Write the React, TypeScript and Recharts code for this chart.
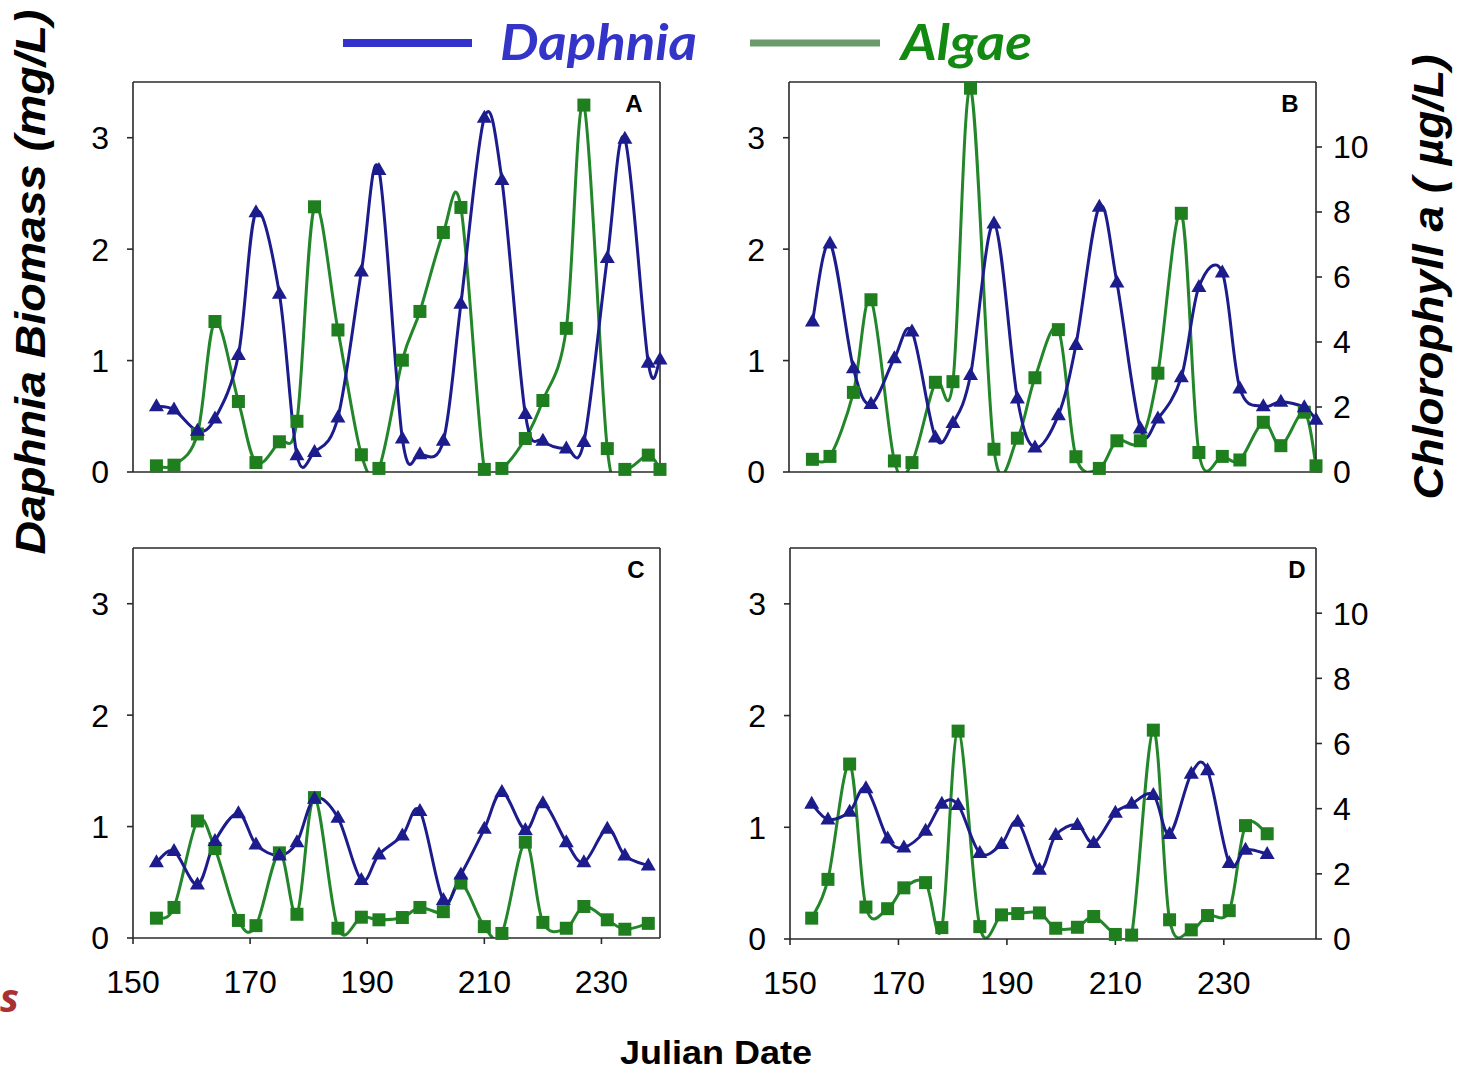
import React from "react";
import { LineChart, Line, XAxis, YAxis } from "recharts";

// sampling days (twice weekly)
const daysAB = [154, 157, 161, 164, 168, 171, 175, 178, 181, 185, 189, 192, 196, 199, 203, 206, 210, 213, 217, 220, 224, 227, 231, 234, 238, 240];
const daysCD = [154, 157, 161, 164, 168, 171, 175, 178, 181, 185, 189, 192, 196, 199, 203, 206, 210, 213, 217, 220, 224, 227, 231, 234, 238];

// Daphnia biomass (mg/L)
const daphniaA = [0.59, 0.56, 0.37, 0.48, 1.05, 2.33, 1.6, 0.15, 0.18, 0.49, 1.8, 2.71, 0.3, 0.16, 0.28, 1.51, 3.18, 2.62, 0.52, 0.28, 0.21, 0.27, 1.92, 2.99, 0.98, 1.01];
const daphniaB = [1.35, 2.05, 0.93, 0.61, 1.02, 1.26, 0.31, 0.44, 0.87, 2.23, 0.66, 0.22, 0.51, 1.14, 2.38, 1.7, 0.39, 0.48, 0.85, 1.66, 1.79, 0.75, 0.59, 0.63, 0.58, 0.47];
const daphniaC = [0.68, 0.78, 0.48, 0.87, 1.12, 0.84, 0.74, 0.86, 1.25, 1.08, 0.52, 0.75, 0.92, 1.14, 0.34, 0.57, 0.98, 1.31, 0.97, 1.21, 0.86, 0.68, 0.98, 0.74, 0.65];
const daphniaD = [1.21, 1.07, 1.14, 1.35, 0.9, 0.82, 0.97, 1.21, 1.2, 0.77, 0.85, 1.05, 0.62, 0.93, 1.02, 0.86, 1.13, 1.21, 1.29, 0.94, 1.48, 1.51, 0.68, 0.8, 0.76];

// Chlorophyll a (ug/L)
const algaeA = [0.19, 0.21, 1.17, 4.63, 2.17, 0.29, 0.93, 1.56, 8.16, 4.37, 0.53, 0.11, 3.44, 4.94, 7.37, 8.14, 0.08, 0.11, 1.03, 2.2, 4.42, 11.29, 0.72, 0.08, 0.52, 0.08];
const algaeB = [0.39, 0.48, 2.45, 5.3, 0.34, 0.29, 2.76, 2.78, 11.81, 0.7, 1.04, 2.9, 4.38, 0.47, 0.11, 0.96, 0.96, 3.04, 7.96, 0.6, 0.48, 0.37, 1.53, 0.81, 1.84, 0.19];
const algaeC = [0.61, 0.94, 3.6, 2.75, 0.54, 0.38, 2.62, 0.73, 4.32, 0.3, 0.64, 0.56, 0.63, 0.94, 0.81, 1.69, 0.35, 0.14, 2.95, 0.48, 0.3, 0.97, 0.56, 0.27, 0.45];
const algaeD = [0.64, 1.83, 5.37, 0.98, 0.93, 1.57, 1.73, 0.35, 6.38, 0.38, 0.74, 0.78, 0.8, 0.33, 0.36, 0.69, 0.14, 0.12, 6.41, 0.59, 0.28, 0.72, 0.87, 3.48, 3.23];

const xTicks = [150, 170, 190, 210, 230];
const daphniaTicks = [0, 1, 2, 3];
const chlTicks = [0, 2, 4, 6, 8, 10];

const NAVY = "#1c1c8c";
const GREEN = "#23862a";
const SQUARE = "#1f7f1f";
const AXIS = "#2a2a2a";
const FONT = "'Liberation Sans', Arial, sans-serif";

const rows = (days: number[], daphnia: number[], algae: number[]) =>
  days.map((day, i) => ({ day, daphnia: daphnia[i], algae: algae[i] }));

// uniform catmull-rom through the points, softer than "natural"
function smooth(context: any) {
  let pts: number[][] = [];
  return {
    areaStart() {},
    areaEnd() {},
    lineStart() {
      pts = [];
    },
    point(x: number, y: number) {
      pts.push([x, y]);
    },
    lineEnd() {
      const n = pts.length;
      if (!n) return;
      context.moveTo(pts[0][0], pts[0][1]);
      for (let i = 0; i < n - 1; i++) {
        const p0 = pts[Math.max(i - 1, 0)];
        const p1 = pts[i];
        const p2 = pts[i + 1];
        const p3 = pts[Math.min(i + 2, n - 1)];
        context.bezierCurveTo(
          p1[0] + (p2[0] - p0[0]) / 6,
          p1[1] + (p2[1] - p0[1]) / 6,
          p2[0] - (p3[0] - p1[0]) / 6,
          p2[1] - (p3[1] - p1[1]) / 6,
          p2[0],
          p2[1]
        );
      }
    },
  };
}

const Tri = (p: any) => {
  if (p.cx == null || p.cy == null) return <g key={`t-${p.index}`} />;
  const { cx, cy } = p;
  return (
    <path
      key={`t-${p.index}`}
      d={`M${cx},${cy - 8} L${cx + 7.5},${cy + 5} L${cx - 7.5},${cy + 5} Z`}
      fill={NAVY}
    />
  );
};

const Sq = (p: any) => {
  if (p.cx == null || p.cy == null) return <g key={`s-${p.index}`} />;
  return <rect key={`s-${p.index}`} x={p.cx - 6.5} y={p.cy - 6.5} width={13} height={13} fill={SQUARE} />;
};

type PanelProps = {
  data: { day: number; daphnia: number; algae: number }[];
  left: number;
  top: number;
  w: number;
  h: number;
  xMax: number;
  xLabels?: boolean;
  rightLabels?: boolean;
};

function Panel({ data, left, top, w, h, xMax, xLabels, rightLabels }: PanelProps) {
  const tickStyle = { fill: "#000", fontSize: 32, fontFamily: FONT };
  const axisProps = { stroke: AXIS, strokeWidth: 1.6 };
  return (
    <div style={{ position: "absolute", left: left - 80, top: top - 20 }}>
      <LineChart width={w + 160} height={h + 90} data={data} margin={{ top: 10, right: 10, bottom: 10, left: 10 }}>
        <XAxis
          xAxisId="b"
          dataKey="day"
          type="number"
          domain={[150, xMax]}
          ticks={xTicks}
          height={60}
          tickSize={6}
          tickMargin={26}
          axisLine={axisProps}
          tickLine={axisProps}
          tick={xLabels ? tickStyle : false}
          interval={0}
        />
        <XAxis
          xAxisId="t"
          orientation="top"
          dataKey="day"
          type="number"
          domain={[150, xMax]}
          allowDataOverflow
          ticks={[170, 190, 210, 230]}
          height={10}
          tickSize={6}
          axisLine={axisProps}
          tickLine={axisProps}
          tick={false}
        />
        <YAxis
          yAxisId="d"
          domain={[0, 3.5]}
          allowDataOverflow
          ticks={daphniaTicks}
          width={70}
          tickSize={6}
          tickMargin={18}
          axisLine={axisProps}
          tickLine={axisProps}
          tick={tickStyle}
          interval={0}
        />
        <YAxis
          yAxisId="c"
          orientation="right"
          domain={[0, 12]}
          allowDataOverflow
          ticks={chlTicks}
          width={70}
          tickSize={6}
          tickMargin={11}
          axisLine={axisProps}
          tickLine={axisProps}
          tick={rightLabels ? { ...tickStyle, textAnchor: "start" } : false}
          interval={0}
        />
        <YAxis yAxisId="dm" hide width={0} domain={[0, 3.5]} />
        <YAxis yAxisId="cm" hide width={0} orientation="right" domain={[0, 12]} />
        <Line xAxisId="b" yAxisId="c" dataKey="algae" type={smooth as any} stroke={GREEN} strokeWidth={3} dot={false} isAnimationActive={false} />
        <Line xAxisId="b" yAxisId="d" dataKey="daphnia" type={smooth as any} stroke={NAVY} strokeWidth={3} dot={false} isAnimationActive={false} />
        <Line xAxisId="b" yAxisId="cm" dataKey="algae" stroke="none" dot={Sq} activeDot={false} isAnimationActive={false} />
        <Line xAxisId="b" yAxisId="dm" dataKey="daphnia" stroke="none" dot={Tri} activeDot={false} isAnimationActive={false} />
      </LineChart>
    </div>
  );
}

export default function App() {
  return (
    <div style={{ position: "absolute", left: 0, top: 0, width: 1470, height: 1070, background: "#fff", overflow: "hidden" }}>
      <Panel data={rows(daysAB, daphniaA, algaeA)} left={133} top={82} w={527} h={390} xMax={240} />
      <Panel data={rows(daysAB, daphniaB, algaeB)} left={789} top={82} w={527} h={390} xMax={240} rightLabels />
      <Panel data={rows(daysCD, daphniaC, algaeC)} left={133} top={548} w={527} h={390} xMax={240} xLabels />
      <Panel data={rows(daysCD, daphniaD, algaeD)} left={790} top={548} w={526} h={391} xMax={247} xLabels rightLabels />
      <svg width={1470} height={1070} style={{ position: "absolute", left: 0, top: 0, pointerEvents: "none" }}>
        {/* legend */}
        <line x1={343} x2={472} y1={43} y2={43} stroke="#3333cc" strokeWidth={8} />
        <text x={500} y={60} fontFamily="Lato, 'Open Sans', sans-serif" fontWeight={700} fontStyle="italic" fontSize={50} fill="#3434c8" textLength={197} lengthAdjust="spacingAndGlyphs">
          Daphnia
        </text>
        <line x1={750} x2={880} y1={43} y2={43} stroke="#6b9a6b" strokeWidth={7} />
        <text x={901} y={60} fontFamily="Lato, 'Open Sans', sans-serif" fontWeight={700} fontStyle="italic" fontSize={50} fill="#128a12" textLength={131} lengthAdjust="spacingAndGlyphs">
          Algae
        </text>
        {/* panel letters */}
        <g fontFamily={FONT} fontWeight={900} fontSize={24} fill="#000" textAnchor="middle">
          <text x={634} y={112}>A</text>
          <text x={1290} y={112}>B</text>
          <text x={636} y={578}>C</text>
          <text x={1297} y={578}>D</text>
        </g>
        {/* axis titles */}
        <text
          transform="translate(45,282) rotate(-90)"
          textAnchor="middle"
          fontFamily={FONT}
          fontWeight={700}
          fontStyle="italic"
          fontSize={43}
          fill="#000"
          textLength={545}
          lengthAdjust="spacingAndGlyphs"
        >
          Daphnia  Biomass (mg/L)
        </text>
        <text
          transform="translate(1443,277) rotate(-90)"
          textAnchor="middle"
          fontFamily={FONT}
          fontWeight={700}
          fontStyle="italic"
          fontSize={43}
          fill="#000"
          textLength={445}
          lengthAdjust="spacingAndGlyphs"
        >
          Chlorophyll a ( µg/L)
        </text>
        <text x={716} y={1064} textAnchor="middle" fontFamily={FONT} fontWeight={700} fontSize={34} fill="#000" textLength={192} lengthAdjust="spacingAndGlyphs">
          Julian Date
        </text>
        <text x={0} y={1012} fontFamily="'Open Sans', sans-serif" fontWeight={700} fontStyle="italic" fontSize={40} fill="#a83232">
          s
        </text>
      </svg>
    </div>
  );
}
